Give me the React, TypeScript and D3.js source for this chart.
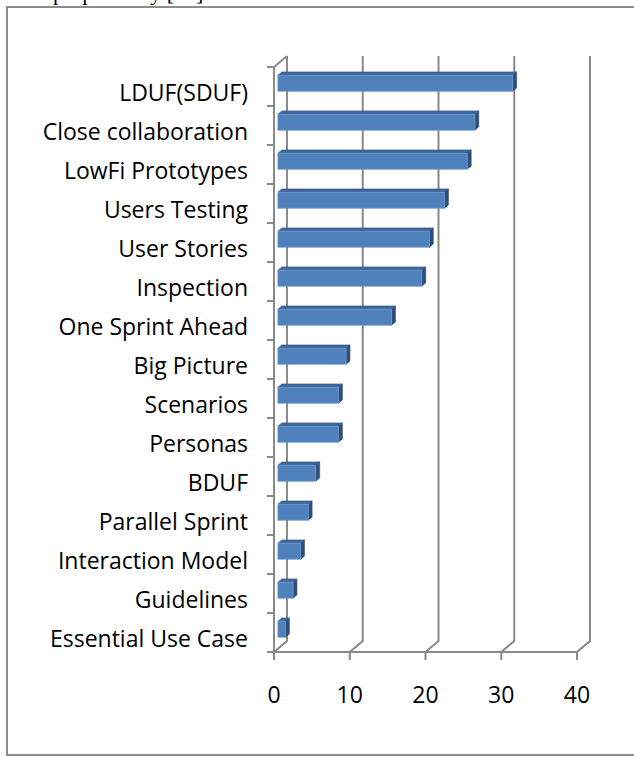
import React from 'react';
import { scaleBand, scaleLinear } from 'd3';

// chart values (top to bottom)
const categories = [
  'LDUF(SDUF)',
  'Close collaboration',
  'LowFi Prototypes',
  'Users Testing',
  'User Stories',
  'Inspection',
  'One Sprint Ahead',
  'Big Picture',
  'Scenarios',
  'Personas',
  'BDUF',
  'Parallel Sprint',
  'Interaction Model',
  'Guidelines',
  'Essential Use Case',
];
const counts = [31, 26, 25, 22, 20, 19, 15, 9, 8, 8, 5, 4, 3, 2, 1];
const xTicks = [0, 10, 20, 30, 40];
const caption = 'proposed by [15].';

const dims = {
  width: 634,
  height: 757,
  plotLeft: 274,
  plotRight: 577,
  plotTop: 67,
  plotBottom: 652,
  depthX: 13,
  depthY: -11,
  barZ0: 0.3,
  barZ1: 0.6,
  barHeight: 16,
};

const gridColor = '#8a8a8a';
const labelFont = '"Open Sans", Lato, sans-serif';

const App: React.FC = () => {
  const x = scaleLinear().domain([0, 40]).range([dims.plotLeft, dims.plotRight]);
  const y = scaleBand().domain(categories).range([dims.plotTop, dims.plotBottom]).padding(0);

  // oblique projection: z=0 front, z=1 back wall
  const px = (xv: number, z: number) => xv + z * dims.depthX;
  const py = (yv: number, z: number) => yv + z * dims.depthY;

  const bw = y.bandwidth();
  const dz = dims.barZ1 - dims.barZ0;

  return (
    <div style={{ position: 'absolute', left: 0, top: 0 }}>
      <svg width={dims.width} height={dims.height} style={{ display: 'block', background: '#fff' }}>
        {/* text of the page above the figure, cut off */}
        <text x={53} y={0} fontFamily='"Liberation Serif", "Times New Roman", serif' fontSize={22} fill="#000">
          {caption}
        </text>

        {/* figure frame */}
        <path d={`M${dims.width + 5},7 H7 V755 H${dims.width + 5}`} fill="none" stroke="#8c8c8c" strokeWidth={2} />

        {/* back wall gridlines + floor diagonals */}
        {xTicks.map(t => (
          <path
            key={'g' + t}
            d={`M${px(x(t), 1)},${py(dims.plotTop, 1)} V${py(dims.plotBottom, 1)} L${x(t)},${dims.plotBottom} V${dims.plotBottom + 8}`}
            fill="none"
            stroke={gridColor}
            strokeWidth={2}
          />
        ))}

        {/* side wall */}
        <path
          d={`M${x(0)},${dims.plotBottom} V${dims.plotTop} L${px(x(0), 1)},${py(dims.plotTop, 1)}`}
          fill="none"
          stroke={gridColor}
          strokeWidth={2}
        />
        {/* front floor edge */}
        <line x1={x(0) - 7} x2={x(40)} y1={dims.plotBottom} y2={dims.plotBottom} stroke={gridColor} strokeWidth={2} />

        {/* category ticks */}
        {categories.map(c => (
          <line key={'t' + c} x1={x(0) - 7} x2={x(0)} y1={y(c)!} y2={y(c)!} stroke={gridColor} strokeWidth={2} />
        ))}

        {/* bars */}
        {categories.map((c, i) => {
          const v = counts[i];
          const yFront = (y(c)! + bw / 2 - dims.barHeight / 2);
          const x0 = px(x(0), dims.barZ0);
          const x1 = px(x(v), dims.barZ0);
          const yt = py(yFront, dims.barZ0);
          const yb = yt + dims.barHeight;
          const ddx = dz * dims.depthX;
          const ddy = dz * dims.depthY;
          return (
            <g key={'b' + c}>
              <polygon
                points={`${x0},${yt} ${x1},${yt} ${x1 + ddx},${yt + ddy} ${x0 + ddx},${yt + ddy}`}
                fill="#3d659a"
                stroke="#365c8c"
                strokeWidth={0.6}
              />
              <polygon
                points={`${x1},${yt} ${x1 + ddx},${yt + ddy} ${x1 + ddx},${yb + ddy} ${x1},${yb}`}
                fill="#2d4e79"
                stroke="#2d4e79"
                strokeWidth={0.6}
              />
              <rect x={x0} y={yt} width={x1 - x0} height={dims.barHeight} fill="#4f81bd" stroke="#6f97cb" strokeWidth={0.8} />
            </g>
          );
        })}

        {/* category labels */}
        {categories.map(c => (
          <text
            key={'l' + c}
            x={248}
            y={y(c)! + bw / 2 + 14}
            textAnchor="end"
            fontFamily={labelFont}
            fontSize={23}
            fill="#000"
          >
            {c}
          </text>
        ))}

        {/* value axis labels */}
        {xTicks.map(t => (
          <text
            key={'x' + t}
            x={x(t)}
            y={703}
            textAnchor="middle"
            fontFamily={labelFont}
            fontSize={23}
            fill="#000"
          >
            {t}
          </text>
        ))}
      </svg>
    </div>
  );
};

export default App;
